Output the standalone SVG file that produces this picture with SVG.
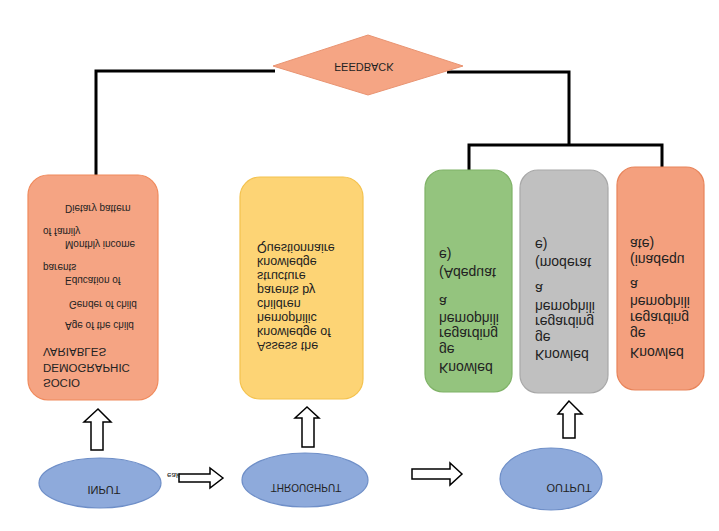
<svg xmlns="http://www.w3.org/2000/svg" width="719" height="531" viewBox="0 0 719 531">
<style>
text{font-family:"Liberation Sans",Arial,sans-serif;fill:#222;dominant-baseline:central}
.sm{font-size:10px}
.cap{font-size:11.5px}
.mid{font-size:12.5px}
.out{font-size:14px}
.ell{font-size:11px;text-anchor:middle}
.wire{fill:none;stroke:#000;stroke-width:3}
.barrow{fill:#fff;stroke:#000;stroke-width:1.5;stroke-linejoin:miter}
.ellipse{fill:#8eaadb;stroke:#6f8fc8;stroke-width:1.2}
</style>
<rect width="719" height="531" fill="#fff"/>
<g id="connectors">
<polyline class="wire" points="275,71 96,71 96,176"/>
<polyline class="wire" points="447,72 569,72 569,145"/>
<polyline class="wire" points="469,170 469,145 662,145 662,167"/>
<polygon class="barrow" points="98,409 84,422 91,422 91,450 103,450 103,422 111,422"/>
<polygon class="barrow" points="307,407 295,418 302,418 302,447 314,447 314,418 319,418"/>
<polygon class="barrow" points="569,401 558,414 563,414 563,438 575,438 575,414 582,414"/>
<polygon class="barrow" points="223,478 210,468 210,474 179,474 179,482 210,482 210,488"/>
<polygon class="barrow" points="462,474 450,463 450,469 412,469 412,479 450,479 450,485"/>
</g>
<g id="feedback">
<polygon points="273,66 368,35 463,66 368,95" fill="#f5a584" stroke="#e99472" stroke-width="1"/>
<text class="ell" transform="matrix(1 0 0 -1 364 67)">FEEDBACK</text>
</g>
<g id="socio">
<rect x="28" y="175" width="130" height="225" rx="20" fill="#f5a483" stroke="#f08a5c" stroke-width="1.2"/>
<text class="sm" transform="matrix(1 0 0 -1 65 208)">Dietary pattern</text>
<text class="sm" transform="matrix(1 0 0 -1 43 231)">of family</text>
<text class="sm" transform="matrix(1 0 0 -1 65 244)">Monthly income</text>
<text class="sm" transform="matrix(1 0 0 -1 43 267)">parents</text>
<text class="sm" transform="matrix(1 0 0 -1 65 280)">Education of</text>
<text class="sm" transform="matrix(1 0 0 -1 69 304)">Gender of child</text>
<text class="sm" transform="matrix(1 0 0 -1 65 325)">Age of the child</text>
<text class="cap" transform="matrix(1 0 0 -1 43 352)">VARIABLES</text>
<text class="cap" transform="matrix(1 0 0 -1 43 368)">DEMOGRAPHIC</text>
<text class="cap" transform="matrix(1 0 0 -1 43 383)">SOCIO</text>
</g>
<g id="assess">
<rect x="240" y="177" width="123" height="222" rx="20" fill="#fdd475" stroke="#f4c24e" stroke-width="1.2"/>
<text class="mid" transform="matrix(1 0 0 -1 257 248)">Questionnaire</text>
<text class="mid" transform="matrix(1 0 0 -1 257 262)">knowledge</text>
<text class="mid" transform="matrix(1 0 0 -1 257 276)">structure</text>
<text class="mid" transform="matrix(1 0 0 -1 257 290)">parents by</text>
<text class="mid" transform="matrix(1 0 0 -1 257 304)">children</text>
<text class="mid" transform="matrix(1 0 0 -1 257 318)">hemophilic</text>
<text class="mid" transform="matrix(1 0 0 -1 257 332)">knowledge of</text>
<text class="mid" transform="matrix(1 0 0 -1 257 346)">Assess the</text>
</g>
<g id="adequate">
<rect x="425" y="170" width="87" height="222" rx="18" fill="#94c47e" stroke="#7fb267" stroke-width="1.2"/>
<text class="out" transform="matrix(1 0 0 -1 439 255)">e)</text>
<text class="out" transform="matrix(1 0 0 -1 439 273)">(Adequat</text>
<text class="out" transform="matrix(1 0 0 -1 439 302)">a</text>
<text class="out" transform="matrix(1 0 0 -1 439 319)">hemophili</text>
<text class="out" transform="matrix(1 0 0 -1 439 334)">regarding</text>
<text class="out" transform="matrix(1 0 0 -1 439 350)">ge</text>
<text class="out" transform="matrix(1 0 0 -1 439 368)">Knowled</text>
</g>
<g id="moderate">
<rect x="520" y="170" width="88" height="223" rx="18" fill="#c0c0c0" stroke="#a8a8a8" stroke-width="1.2"/>
<text class="out" transform="matrix(1 0 0 -1 535 245)">e)</text>
<text class="out" transform="matrix(1 0 0 -1 535 263)">(moderat</text>
<text class="out" transform="matrix(1 0 0 -1 535 289)">a</text>
<text class="out" transform="matrix(1 0 0 -1 535 307)">hemophili</text>
<text class="out" transform="matrix(1 0 0 -1 535 322)">regarding</text>
<text class="out" transform="matrix(1 0 0 -1 535 338)">ge</text>
<text class="out" transform="matrix(1 0 0 -1 535 355)">Knowled</text>
</g>
<g id="inadequate">
<rect x="617" y="167" width="87" height="223" rx="18" fill="#f4a07e" stroke="#e8845a" stroke-width="1.2"/>
<text class="out" transform="matrix(1 0 0 -1 630 244)">ate)</text>
<text class="out" transform="matrix(1 0 0 -1 630 260)">(inadequ</text>
<text class="out" transform="matrix(1 0 0 -1 630 285)">a</text>
<text class="out" transform="matrix(1 0 0 -1 630 302)">hemophili</text>
<text class="out" transform="matrix(1 0 0 -1 630 318)">regarding</text>
<text class="out" transform="matrix(1 0 0 -1 630 334)">ge</text>
<text class="out" transform="matrix(1 0 0 -1 630 353)">Knowled</text>
</g>
<g id="input">
<ellipse class="ellipse" cx="100" cy="483" rx="61" ry="25"/>
<text class="ell" transform="matrix(1 0 0 -1 104 490)">INPUT</text>
<text transform="matrix(1 0 0 -1 167 475)" style="font-size:8px">eak</text>
</g>
<g id="throughput">
<ellipse class="ellipse" cx="305" cy="480" rx="63" ry="27"/>
<text class="ell" transform="matrix(1 0 0 -1 306 487)" style="font-size:10px">THROUGHPUT</text>
</g>
<g id="output">
<ellipse class="ellipse" cx="551" cy="479" rx="51" ry="31"/>
<text class="ell" transform="matrix(1 0 0 -1 569 488)">OUTPUT</text>
</g>
</svg>
